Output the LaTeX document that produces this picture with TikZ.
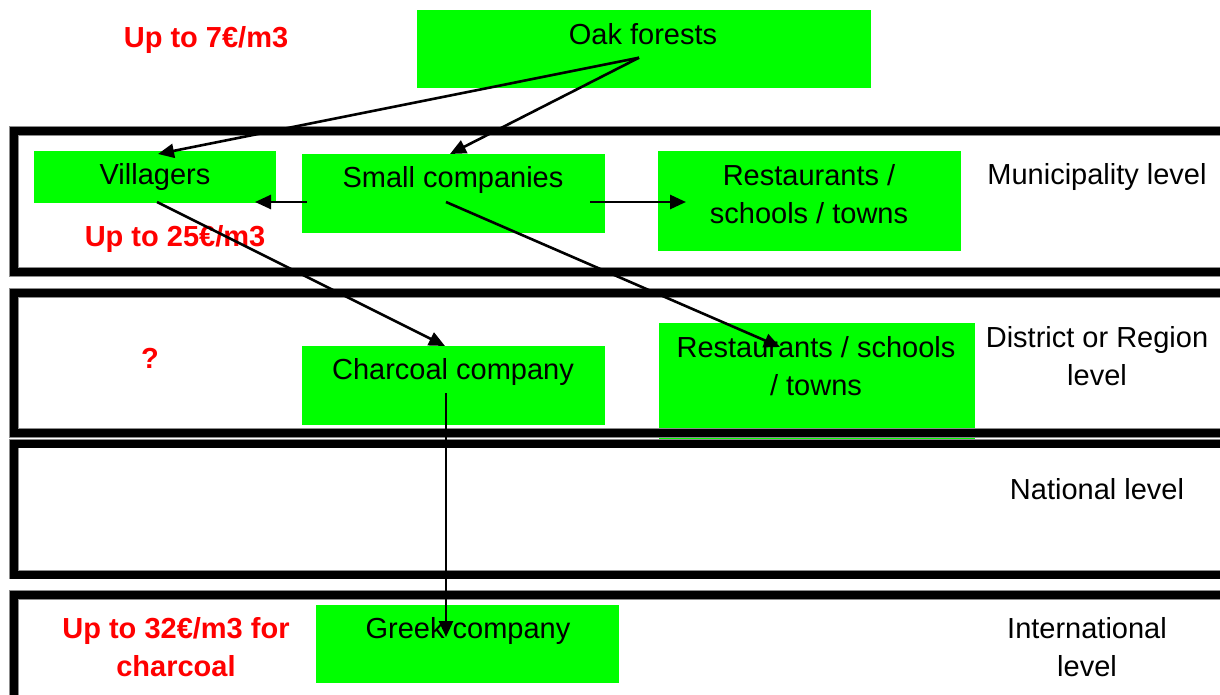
\documentclass[tikz,border=0pt]{standalone}
\usepackage{fontspec}
\setmainfont{Liberation Sans}
\usetikzlibrary{arrows.meta}
\definecolor{boxgreen}{HTML}{00FF00}
\definecolor{pricered}{HTML}{FF0000}
\begin{document}
\begin{tikzpicture}[x=1pt,y=-1pt,
  gbox/.style={fill=boxgreen, draw=none, inner sep=0pt, outer sep=0pt, anchor=north west},
  lbl/.style={font=\fontsize{29}{38}\selectfont, align=center, anchor=base, inner sep=0pt},
  price/.style={lbl, font=\fontsize{29}{38}\selectfont\bfseries, text=pricered},
  bandouter/.style={draw=black!45, line width=9.5pt},
  bandinner/.style={draw=black, line width=8pt},
  flow/.style={line width=2.6pt, -{Triangle[length=16pt,width=14pt]}}]
\useasboundingbox (0,0) rectangle (1220,695);
\clip (0,0) rectangle (1220,695);
% green boxes
\node[gbox, minimum width=454pt, minimum height=78pt] (oak) at (417,10) {};
\node[gbox, minimum width=242pt, minimum height=52pt] (vil) at (34,151) {};
\node[gbox, minimum width=303pt, minimum height=79pt] (small) at (302,154) {};
\node[gbox, minimum width=303pt, minimum height=100pt] (rest1) at (658,151) {};
\node[gbox, minimum width=303pt, minimum height=79pt] (char) at (302,346) {};
\node[gbox, minimum width=316pt, minimum height=116pt] (rest2) at (659,323) {};
\node[gbox, minimum width=303pt, minimum height=78pt] (greek) at (316,605) {};
% level bands
\foreach \t/\b in {131/272, 293/433, 443.7/574.5, 595/720} {
  \draw[bandouter] (14,\t) rectangle (1226,\b);
  \draw[bandinner] (14,\t) rectangle (1226,\b);
}
% texts (multi-line nodes are placed at the baseline of their last line)
\node[lbl] (toak) at (643,44.3) {Oak forests};
\node[lbl] (tvil) at (155,185) {Villagers};
\node[lbl] (tsmall) at (453,188) {Small companies};
\node[lbl] (trest1) at (809,223.3) {Restaurants /\\schools / towns};
\node[lbl] (tchar) at (453,379.5) {Charcoal company};
\node[lbl] (trest2) at (816,395) {Restaurants / schools\\/ towns};
\node[lbl] (tgreek) at (468,638) {Greek company};
\node[lbl] (lmun) at (1097,185) {Municipality level};
\node[lbl] (ldist) at (1097,385) {District or Region\\level};
\node[lbl] (lnat) at (1097,499) {National level};
\node[lbl] (lint) at (1087,676) {International\\level};
\node[price] (p7) at (206,47.7) {Up to 7€/m3};
\node[price] (p25) at (175,246) {Up to 25€/m3};
\node[price] (pq) at (150,368) {?};
\node[price] (p32) at (176,676) {Up to 32€/m3 for\\charcoal};
% connector ends
\coordinate (oakout) at (639,57.7);
\coordinate (vilin) at (158,154);
\coordinate (smallin) at (450,154);
\coordinate (smallleft) at (307,202);
\coordinate (vilright) at (255,202);
\coordinate (smallright) at (590,202);
\coordinate (rest1in) at (686,202);
\coordinate (vilout) at (157,202);
\coordinate (charin) at (445,346);
\coordinate (smallout) at (446,202);
\coordinate (rest2in) at (780,347);
\coordinate (charout) at (446,393);
\coordinate (greekin) at (446,637);
% connectors
\draw[flow] (oakout) -- (vilin);
\draw[flow] (oakout) -- (smallin);
\draw[flow] (smallleft) -- (vilright);
\draw[flow] (smallright) -- (rest1in);
\draw[flow] (vilout) -- (charin);
\draw[flow] (smallout) -- (rest2in);
\draw[flow] (charout) -- (greekin);
\end{tikzpicture}
\end{document}
